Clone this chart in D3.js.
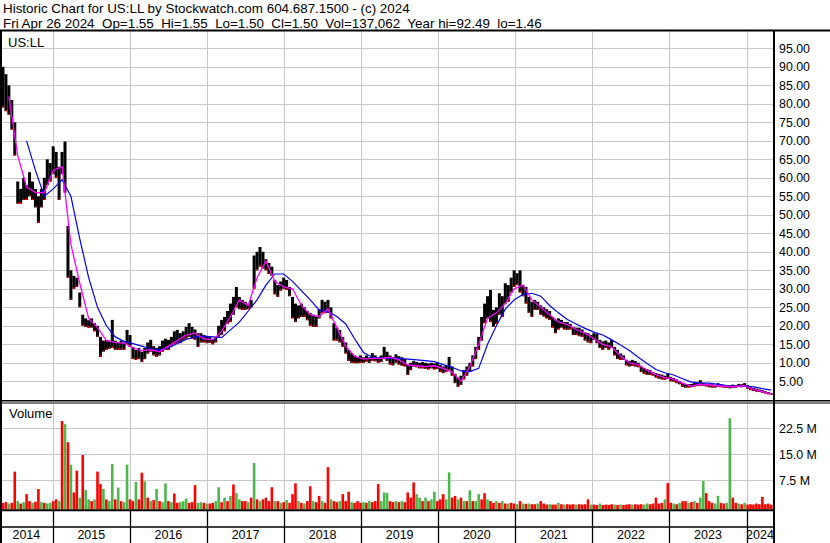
<!DOCTYPE html>
<html><head><meta charset="utf-8">
<script src="https://cdn.jsdelivr.net/npm/d3@7"></script>
<style>
body{margin:0;background:#fff}
svg{display:block}
text{font-family:"Liberation Sans",Arial,sans-serif;fill:#000}
</style></head>
<body><svg id="c" width="830" height="543"></svg>
<script>
// ---------- data ----------
const headerLine1 = "Historic Chart for US:LL by Stockwatch.com 604.687.1500 - (c) 2024";
const headerLine2 = "Fri Apr 26 2024  Op=1.55  Hi=1.55  Lo=1.50  Cl=1.50  Vol=137,062  Year hi=92.49  lo=1.46";
const symbolLabel = "US:LL";
const volumeLabel = "Volume";
const yearLabels = ["2014","2015","2016","2017","2018","2019","2020","2021","2022","2023","2024"];
const priceTicks = [5,10,15,20,25,30,35,40,45,50,55,60,65,70,75,80,85,90,95];
const volumeTicks = [7.5,15,22.5]; // millions
const startDate = "2014-04-26";
const endDate = "2024-04-26";
const barStepDays = 14;   // one bar per two weeks
const maStepDays = 42;    // MA readings every six weeks

// two-week bar highs / lows
const barHigh = [92.5,90,88,85,81,75,59,57,60,58,
61.5,59,57,55,57,60,65,64,68.5,67,
63,67,69.8,47,35,33.5,33,29,23,22,
21.5,22,20.7,20,17,16,16.2,16,21.6,16,
15.5,16,15.5,18.9,17.5,14.3,13.5,14,13,14,
15.5,16.2,14.5,14,14.5,16,16.5,16.2,17,18.5,
18.9,18,18.5,19.7,20.7,19.7,19,18,18,17.5,
17,17,16.5,17,20,21.6,22.4,24,26,27.8,
30.5,27.8,27,26.5,26,27,39,40,41.3,40,
38,37,36,32.4,31,32,33,32.4,30.5,27.8,
26,25.5,26,25,24,23.4,23,22.5,24.5,27,
26.5,27,25,20.7,19.5,18.9,17,15.5,13.5,12.6,
12,11.5,12,11.5,12,11.5,12.6,12,11.5,12,
14.3,13,12,11.5,12.3,11.8,11.5,11,9.5,10,
10.5,10.2,10,10.2,10,9.8,10,9.8,10,9.4,
9,9.4,11.6,9,7,6,6.5,8,9,10,
12,14.3,17,22.4,26,28,29.7,24.3,25,28.8,
28,31.5,31,33,35,34.2,35,31,30.5,27.8,
26.5,27,26.5,25.5,25,24.5,24,22.4,21.5,22,
21.6,21,21,20.5,19.7,19.5,19.5,19,18.2,18,
17.5,18,17.8,16.2,15.8,16,15.5,16.2,14.3,13.5,
12.5,12,10.8,10.5,10.8,10.5,10,9,8.6,8.3,
8,7.5,7.2,7,6.8,6.5,7,6.2,5.9,5.5,
5,4.5,4.2,4.2,4.3,4.5,4.5,5.3,4.6,4.4,
4.3,4.2,4.1,4.5,4.2,4.1,4,4,4.1,4,
4.3,4.2,4.5,4,3.5,3.2,3,2.8,2.6,2.3,
2.1,1.8];
const barLow = [82,79,78,77,73,66,53,53,54,54,
55,54,52,47.8,52,54,58,59,61,60,
54,61,56,33,27,30,30.5,25,20,19.7,
19.5,19.5,18.5,17,11.6,13,13.5,13.8,14,13.5,
13.5,13.5,13.5,15,14.3,11,10.8,11,10.2,11,
12.5,13,12,11.6,12,13,13.5,13.5,14.5,15,
15.3,15.3,16,16.5,17,16.5,16.2,14.3,15.5,15.5,
15.3,15.4,15,15.5,17,17.5,18.5,20.5,21,23,
25,24.5,24.3,24.3,24.5,25,30,35,36,35.5,
35,34,33.5,28.5,27.8,29.5,30,29.7,28,22,
21,22,22.4,22.4,21.5,20,19.7,19.7,22,23.4,
23.4,23.5,22,16,16,15.5,14.3,12.5,10.5,10,
9.9,9.9,10,10,10.3,10,10.5,10.4,10,10.2,
11,10.5,9.5,9.3,10,9.5,9.2,9,6.7,8,
9,8.8,8.5,8.5,8.4,8.2,8.5,8.2,8.3,7.5,
7.2,7.5,8,6.5,4.5,3.5,4,5.5,6.5,7.5,
9,11,13.5,16,20.7,22,21,19.7,20.5,23,
22.4,26,26.5,29,30.5,31,29,28,26,23.5,
22.4,24.3,24.3,23,22.5,22,21.6,19.5,18,19,
19.5,19,18.9,19,17.5,17.5,17.2,17,16,15.5,
15.3,16.2,15.3,14,13.5,14,13.5,14,12,11,
10.8,10.8,9.3,9,9.2,9,8.8,7.5,7,6.7,
6.7,6.5,6,5.7,5.5,5.4,5.7,5,4.9,4.5,
4.2,3.5,3.3,3.3,3.4,3.6,3.7,3.8,3.8,3.6,
3.4,3.3,3.3,3.5,3.4,3.3,3.2,3.1,3.2,3.2,
3.5,3.4,3.5,3,2.6,2.4,2.2,2.1,1.9,1.7,
1.5,1.46];

// volume per bar, millions, and colour (g = up, r = down)
const barVolume = [3.3,1,1.2,0.8,1,10,1.5,0.8,1.2,3.5,
1.5,1,1.3,5,1.2,1,0.8,1,1.5,2,
1.5,24.6,23.7,18.5,12,4,10.3,2.5,14.8,4.7,
2,1.5,2,10,6.4,5,2,1.5,12.2,2,
5.4,1.5,1.2,12,2,1.5,7,2,9.7,7.2,
2.5,1.5,1.8,5,1.5,1.2,6.6,1.5,1.2,3.7,
1,1.2,1.5,2.2,1,1.2,6.1,1,1.2,1,
0.8,0.8,1,1.5,5.5,1.2,2.5,1.5,3,6.3,
3.8,2,1.5,1.5,1.2,2.5,12.5,2,1.5,2,
2.5,1.5,5.5,1.5,1.5,1,1.2,1.8,1,3.5,
6.6,1.5,1,0.8,1.5,5.8,1.5,1.2,3,1.5,
1,11.3,2,1.5,1.2,1.5,3.5,1.5,4.2,1.2,
1,1.5,1,1.2,1,1.5,1.2,1.5,6.4,1.5,
4,3.8,1.5,1.2,1.5,1.2,1.5,1.2,4,2.5,
6.9,3.5,2.5,1.5,2.5,1.5,2,4.2,1.5,2,
3.5,2,9.8,2.5,3,2,2.5,1.5,1.5,4.6,
1.5,1.5,3.5,2,3.8,2,1.5,1,1.5,1,
1.5,0.8,0.8,1,0.8,0.6,1.5,0.8,0.7,0.8,
0.6,0.6,0.8,1.5,0.8,0.5,0.6,0.5,0.5,1,
0.6,0.5,0.6,0.5,0.6,0.5,0.6,0.5,0.6,2,
0.5,0.5,0.4,0.8,0.4,0.5,0.4,0.6,0.5,0.4,
0.5,0.4,0.5,0.6,0.5,0.6,0.5,0.6,0.5,0.8,
0.6,0.8,2.5,0.8,1,2,6.7,1,0.8,0.6,
1,1.5,1.5,1,1.2,1.5,1,2.5,7.3,3.8,
1.5,1,0.8,3,1,0.8,1,25.4,2.5,1,
0.8,0.6,1,0.5,0.6,0.5,0.8,0.6,2.7,0.6,
0.8,0.5];
const barVolumeColor = "grrgrrgrgr"+"rgrrgrggrr"+"grgrgrrgrg"+"grgrrgrggr"+"grggrrgrrg"+
"rgrgrggrgr"+"rgggrrrggr"+"grrggrgrgr"+"ggrrgrgrgr"+"rrrgrgrgrr"+
"rgrgrrgrrg"+"rrgrrgrrrg"+"rrrgrgrrrg"+"ggrrgrgrrr"+"rggrgrggrr"+
"rggrrgrgrg"+"rggrrgrrgr"+"grgrrgrgrg"+"rrgrrrgrrg"+"rgrrrgrrrr"+
"grrgrrrrgr"+"grrrgrrrgg"+"rrrrrgrrgr"+"grrgrgrggr"+"rrggrrggrr"+
"grgrrrrrrr"+"rr";

// moving averages read every six weeks
const maFast = [null,82,66,57.5,56,56,62,63,42,31.5,22,19.5,16,15.5,15.3,14,13.3,13.5,13,14.5,
16,17.5,18,16.5,16.2,18.5,22.5,27,25.5,33,37.5,32,30.5,30,25.5,23,22.5,24.6,19.5,14.5,
11.8,11,11.2,11.2,11.5,10.8,9.4,9.2,9,9.2,8.5,7.5,5,9,15,22,23.5,26,30,31,
27,25,23,21,20.3,19,18,16.5,15,14.3,11.8,10,9.5,8,6.8,6,5.6,4.5,3.7,4.2,
4,3.8,3.6,3.6,3.8,2.8,2.2,1.6];
const maSlow = [null,null,null,70,62,55,57,59.5,55,43.5,33,25,20,17,15.8,15.2,14.5,13.8,13.5,14,
15.2,16.3,17,17.2,17,16.8,18.9,21,24,27,31,34,34,32,29.5,27,24.3,23.8,22.5,20.5,
16.5,12.8,11.5,11.3,11.2,11.2,11,10.8,10.6,10.3,9.5,8.8,7.8,7.6,8.5,15,20,24.5,27,28.5,
28.8,28,25.5,23.5,21.7,20.5,19.3,18.3,17.5,16.2,14.8,13.3,11.5,9.8,8.2,7.3,6.7,5.7,4.8,4.6,
4.5,4.2,3.8,3.7,3.7,3.5,3,2.6];

// ---------- layout ----------
const W = 830, H = 543;
const plotL = 0, plotR = 773.5;
const priceTop = 31, priceBot = 400;
const volTop = 403, volBot = 509.5;
const axisMid = 527;

const parse = d3.timeParse("%Y-%m-%d");
const t0 = parse(startDate), t1 = parse(endDate);
const x = d3.scaleTime().domain([t0, t1]).range([0, 771]);
const yP = d3.scaleLinear().domain([0, 100]).range([399.8, 29.8]);
const yV = d3.scaleLinear().domain([0, 30]).range([506.3, 402.3]);

const svg = d3.select("#c");
svg.append("rect").attr("width", W).attr("height", H).attr("fill", "#fff");

const defs = svg.append("defs");
defs.append("clipPath").attr("id","cp").append("rect")
  .attr("x",1).attr("y",priceTop).attr("width",plotR-1).attr("height",priceBot-priceTop);
defs.append("clipPath").attr("id","cv").append("rect")
  .attr("x",1).attr("y",volTop).attr("width",plotR-1).attr("height",volBot-volTop);

const yearStarts = d3.timeYear.range(new Date(2015,0,1), new Date(2025,0,1));
const crisp = v => Math.round(v) + 0.5;
const grid = "#c8c8c8";

// price grid
const gP = svg.append("g");
gP.selectAll("line.h").data(priceTicks).join("line")
  .attr("x1", plotL).attr("x2", plotR).attr("y1", d => crisp(yP(d))).attr("y2", d => crisp(yP(d)))
  .attr("stroke", grid).attr("stroke-width", 1);
gP.selectAll("line.v").data(yearStarts).join("line")
  .attr("x1", d => crisp(x(d))).attr("x2", d => crisp(x(d))).attr("y1", priceTop).attr("y2", priceBot)
  .attr("stroke", grid).attr("stroke-width", 1);

// volume grid
const gV = svg.append("g");
gV.selectAll("line.h").data(volumeTicks).join("line")
  .attr("x1", plotL).attr("x2", plotR).attr("y1", d => crisp(yV(d))).attr("y2", d => crisp(yV(d)))
  .attr("stroke", grid).attr("stroke-width", 1);
gV.selectAll("line.v").data(yearStarts).join("line")
  .attr("x1", d => crisp(x(d))).attr("x2", d => crisp(x(d))).attr("y1", volTop).attr("y2", volBot)
  .attr("stroke", grid).attr("stroke-width", 1);

// price bars
const bars = barHigh.map((h, i) => ({ date: d3.timeDay.offset(t0, i * barStepDays), hi: h, lo: barLow[i] }));
const gBars = svg.append("g").attr("clip-path", "url(#cp)");
gBars.selectAll("rect.b").data(bars).join("rect")
  .attr("x", d => x(d.date) - 1.5).attr("width", 3)
  .attr("y", d => yP(d.hi)).attr("height", d => Math.max(1.5, yP(d.lo) - yP(d.hi)))
  .attr("fill", "#000");
gBars.selectAll("rect.r").data(bars).join("rect")
  .attr("x", d => x(d.date) - 0.5).attr("width", 1.5)
  .attr("y", d => yP(d.lo) - 1.5).attr("height", 1.5)
  .attr("fill", "#ff0000");

// moving averages
const maPts = arr => arr.map((v, k) => ({ date: d3.timeDay.offset(t0, k * maStepDays), v }));
const line = d3.line().defined(d => d.v != null).x(d => x(d.date)).y(d => yP(d.v));
gBars.append("path").datum(maPts(maSlow)).attr("d", line)
  .attr("fill", "none").attr("stroke", "#0000ff").attr("stroke-width", 1.2);
gBars.append("path").datum(maPts(maFast)).attr("d", line)
  .attr("fill", "none").attr("stroke", "#ff00ff").attr("stroke-width", 1.3);

// volume bars
const vols = barVolume.map((v, i) => ({ date: d3.timeDay.offset(t0, i * barStepDays), v, c: barVolumeColor[i] }));
svg.append("g").attr("clip-path", "url(#cv)").selectAll("rect").data(vols).join("rect")
  .attr("x", d => x(d.date) - 1.3).attr("width", 2.6)
  .attr("y", d => yV(d.v)).attr("height", d => Math.max(1, volBot - yV(d.v)))
  .attr("fill", d => d.c === "g" ? "#4cb84c" : "#ff0000");

// frame lines
const frame = svg.append("g").attr("stroke", "#000");
frame.append("line").attr("x1", 0).attr("x2", W).attr("y1", 30.5).attr("y2", 30.5).attr("stroke-width", 2);
frame.append("line").attr("x1", 0).attr("x2", W).attr("y1", 400.7).attr("y2", 400.7).attr("stroke-width", 1.5);
frame.append("line").attr("x1", 0).attr("x2", W).attr("y1", 403).attr("y2", 403).attr("stroke-width", 1);
frame.append("line").attr("x1", 0).attr("x2", plotR).attr("y1", 510.3).attr("y2", 510.3).attr("stroke-width", 2);
frame.append("line").attr("x1", 0).attr("x2", plotR).attr("y1", axisMid).attr("y2", axisMid).attr("stroke-width", 1.6);
frame.append("line").attr("x1", 1).attr("x2", 1).attr("y1", 30).attr("y2", H).attr("stroke-width", 2);
frame.append("line").attr("x1", 774).attr("x2", 774).attr("y1", 30).attr("y2", H).attr("stroke-width", 2);
frame.selectAll("line.ys").data(yearStarts).join("line")
  .attr("x1", d => crisp(x(d))).attr("x2", d => crisp(x(d))).attr("y1", 511).attr("y2", H)
  .attr("stroke-width", 1.3);

// year labels, centred in their visible span
const yearSpans = yearLabels.map((lab, i) => {
  const a = Math.max(0, x(new Date(2014 + i, 0, 1)));
  const b = Math.min(plotR, x(new Date(2015 + i, 0, 1)));
  return { lab, cx: (a + b) / 2 };
});
svg.append("g").selectAll("text").data(yearSpans).join("text")
  .attr("x", d => d.cx).attr("y", 539.3).attr("text-anchor", "middle")
  .style("font-size", "12.5px").text(d => d.lab);

// right price axis
const axP = svg.append("g").attr("transform", `translate(779,0)`)
  .call(d3.axisRight(yP).tickValues(priceTicks).tickSize(0).tickPadding(0).tickFormat(d3.format(".2f")));
axP.select(".domain").remove();
axP.selectAll("text").style("font-size", "12.4px").style("font-family", '"Liberation Sans",Arial,sans-serif').attr("fill", "#000");

// right volume axis
const axV = svg.append("g").attr("transform", `translate(779,0)`)
  .call(d3.axisRight(yV).tickValues(volumeTicks).tickSize(0).tickPadding(0).tickFormat(d => d3.format(".1f")(d) + " M"));
axV.select(".domain").remove();
axV.selectAll("text").style("font-size", "12.4px").style("font-family", '"Liberation Sans",Arial,sans-serif').attr("fill", "#000");

// labels
svg.append("text").attr("x", 8).attr("y", 46.7).style("font-size", "13px").text(symbolLabel);
svg.append("text").attr("x", 9).attr("y", 418.3).style("font-size", "13px").text(volumeLabel);
svg.append("text").attr("x", 3).attr("y", 13.3).attr("xml:space", "preserve").style("white-space", "pre").style("font-size", "13.4px").text(headerLine1);
svg.append("text").attr("x", 3).attr("y", 27.6).attr("xml:space", "preserve").style("white-space", "pre").style("font-size", "13.4px").text(headerLine2);
</script></body></html>
